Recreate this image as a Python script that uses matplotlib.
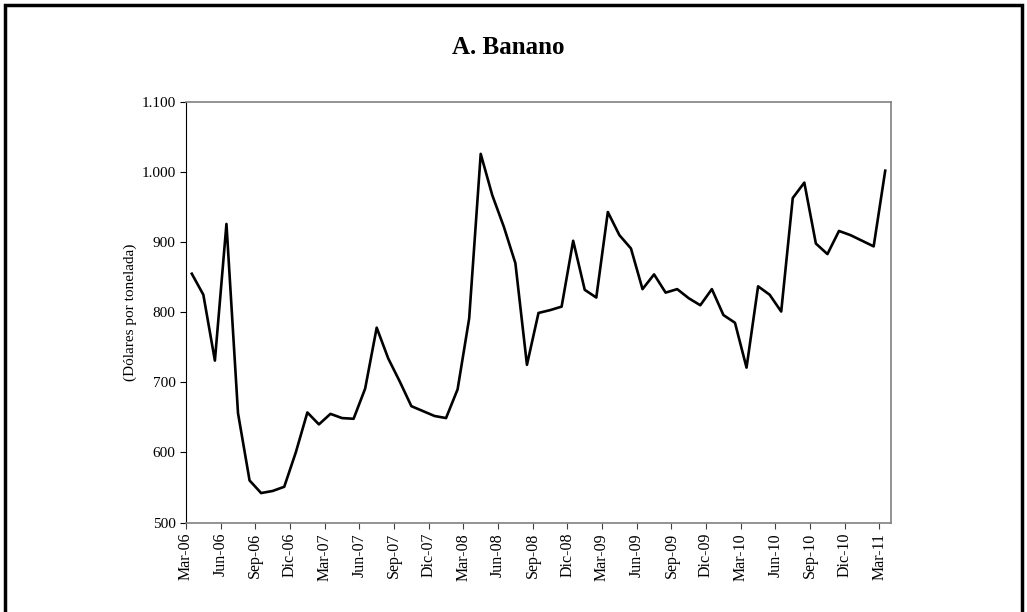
import numpy as np
import matplotlib
matplotlib.use('Agg')
import matplotlib.pyplot as plt
from matplotlib.patches import Rectangle
from matplotlib.ticker import FuncFormatter

# Datos: precio mensual del banano, Mar-06 a Mar-11
meses = ['Mar', 'Abr', 'May', 'Jun', 'Jul', 'Ago', 'Sep', 'Oct', 'Nov', 'Dic', 'Ene', 'Feb']
anios_ini = 2006
precio = [855, 825, 731, 926, 656, 560, 542, 545, 551, 600,
          657, 640, 655, 649, 648, 691, 778, 734, 701, 666,
          659, 652, 649, 690, 791, 1026, 967, 922, 870, 725,
          799, 803, 808, 902, 832, 821, 943, 910, 891, 833,
          854, 828, 833, 820, 810, 833, 796, 785, 721, 837,
          825, 801, 963, 985, 898, 883, 916, 910, 902, 894,
          1002]

# etiquetas cada 3 meses
etiquetas = []
for i in range(0, len(precio), 3):
    m = meses[i % 12]
    a = anios_ini + (i + 2) // 12
    etiquetas.append('%s-%02d' % (m, a % 100))

plt.rcParams['font.family'] = 'Liberation Serif'

fig = plt.figure(figsize=(10.27, 6.12), dpi=100)
ax = fig.add_axes([186/1027, 1 - 522.5/612, (891 - 186)/1027, (522.5 - 102)/612])

x = np.arange(len(precio))
ax.plot(x, precio, color='black', linewidth=1.9)

ax.set_xlim(-0.5, len(precio) - 0.5)
ax.set_ylim(500, 1100)
ax.set_yticks(np.arange(500, 1101, 100))
ax.yaxis.set_major_formatter(FuncFormatter(lambda v, p: '{:,.0f}'.format(v).replace(',', '.')))
ax.set_xticks(np.arange(0, len(precio), 3) - 0.5)
ax.set_xticklabels(etiquetas, rotation=90, fontsize=11.5)
ax.tick_params(axis='y', labelsize=11, length=4, direction='out')
ax.tick_params(axis='x', length=4, direction='out', color='#404040')

ax.spines['left'].set_color('black')
for s in ['top', 'right', 'bottom']:
    ax.spines[s].set_color('#808080')
    ax.spines[s].set_linewidth(1.2)

ax.set_ylabel('(Dólares por tonelada)', fontsize=11, labelpad=3)

fig.text(508/1027, 1 - 47/612, 'A. Banano', ha='center', va='center',
         fontsize=18, fontweight='bold')

# marco exterior
fig.add_artist(Rectangle((5/1027, -0.1), 1017/1027, 0.1 + 1 - 5/612, fill=False,
                         edgecolor='black', linewidth=2.5, transform=fig.transFigure))

fig.savefig('out.png', dpi=100)
